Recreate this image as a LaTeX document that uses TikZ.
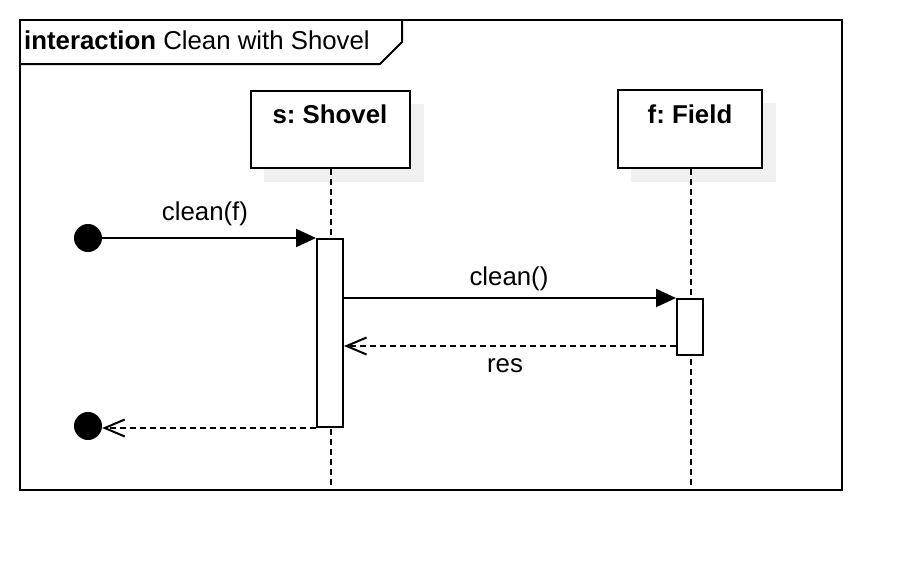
\documentclass[tikz,border=0pt]{standalone}
\usepackage{fontspec}
\setmainfont{Liberation Sans}
\usetikzlibrary{arrows.meta}
\frenchspacing
\begin{document}
\begin{tikzpicture}[x=1pt,y=-1pt,
  every node/.style={font=\fontsize{25.8}{30}\selectfont, inner sep=0pt},
  line/.style={line width=2pt},
  dsh/.style={line width=2pt, dash pattern=on 6pt off 4pt},
  objbox/.style={draw, line width=2pt, fill=white, anchor=north west},
  shadowbox/.style={fill=black!6, draw=none, anchor=north west},
  actbox/.style={draw, line width=2pt, fill=white, anchor=north west},
  dot/.style={circle, fill=black, minimum size=28pt},
  sync/.style={line width=2pt, -{Triangle[length=20pt,width=18pt]}},
  ret/.style={dsh, -{Straight Barb[length=20pt,width=17pt,line width=2pt]}},
  lbl/.style={anchor=base}
]
\useasboundingbox (0,0) rectangle (922,570);
% frame
\draw[line] (20,20) rectangle (842,490);
\draw[line] (20,64) -- (380,64) -- (402,42) -- (402,20);
\node[anchor=base west] (title) at (24,49) {\textbf{interaction} Clean with Shovel};

% shadows
\node[shadowbox, minimum width=160pt, minimum height=78pt] (shs) at (264,104) {};
\node[shadowbox, minimum width=145pt, minimum height=79pt] (shf) at (631,103) {};
% objects
\node[objbox, minimum width=159pt, minimum height=77pt] (s) at (250,90) {};
\node[lbl, font=\fontsize{25.8}{30}\selectfont\bfseries] (slbl) at (330,123) {s: Shovel};
\node[objbox, minimum width=144pt, minimum height=78pt] (f) at (617,89) {};
\node[lbl, font=\fontsize{25.8}{30}\selectfont\bfseries] (flbl) at (690,123) {f: Field};

% lifelines
\coordinate (sEnd) at (331,490);
\coordinate (fEnd) at (691,490);
\draw[dsh] (s.south -| sEnd) -- (sEnd);
\draw[dsh] (f.south -| fEnd) -- (fEnd);

% activations
\node[actbox, minimum width=26pt, minimum height=188pt] (a1) at (316,238) {};
\node[actbox, minimum width=26pt, minimum height=56pt] (a2) at (676,298) {};

% start / end points
\node[dot] (start) at (88,238) {};
\node[dot] (stop) at (88,426) {};

% messages
\draw[sync] (start.east) -- (start.east -| a1.west);
\node[lbl] (m1) at (205,220) {clean(f)};
\draw[sync] (a1.east |- a2.north west) -- (a2.north west);
\node[lbl] (m2) at (509,285) {clean()};
\coordinate (r1) at (676,346);
\draw[ret] (r1) -- (r1 -| a1.east);
\node[lbl] (m3) at (505,372) {res};
\draw[ret] (a1.south west) -- (a1.south west -| stop.east);
\end{tikzpicture}
\end{document}
